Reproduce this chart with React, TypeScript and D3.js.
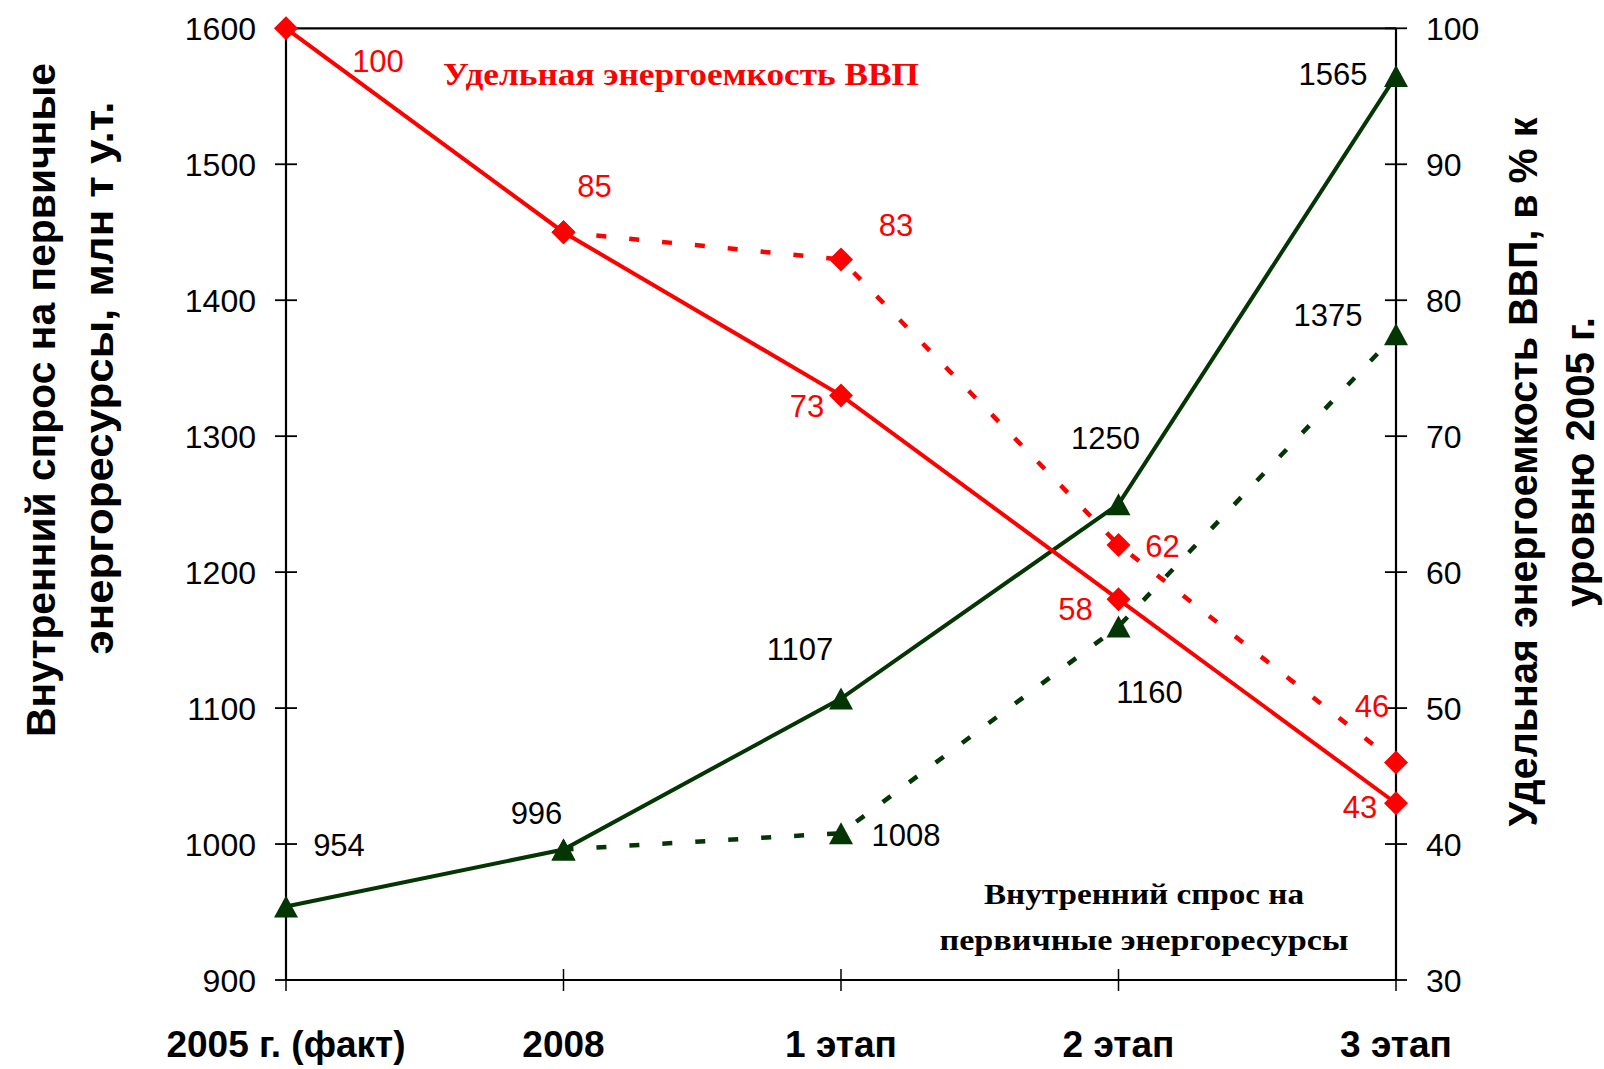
import React from "react";
import * as d3 from "d3";

// categories and series
const categories = ["2005 г. (факт)", "2008", "1 этап", "2 этап", "3 этап"];
const intensityBase = [100, 85, 73, 58, 43];
const intensityAlt = [null, 85, 83, 62, 46];
const demandBase = [954, 996, 1107, 1250, 1565];
const demandAlt = [null, 996, 1008, 1160, 1375];
const leftTicks = [900, 1000, 1100, 1200, 1300, 1400, 1500, 1600];
const rightTicks = [30, 40, 50, 60, 70, 80, 90, 100];

// label offsets from their points (px)
const intensityBaseOff = [[92, 33], [31, -46], [-34, 10], [-43, 10], [-36, 4]];
const intensityAltOff = [null, null, [55, -35], [44, 1], [-24, -57]];
const demandBaseOff = [[53, -62], [-27, -37], [-41, -50], [-13, -66], [-63, -2]];
const demandAltOff = [null, null, [65, 2], [31, 65], [-68, -19]];

const W = 1604;
const H = 1069;
const RED = "#ff0000";
const GREEN = "#033603";
const SANS = "'Liberation Sans', Arial, sans-serif";
const SERIF = "'Liberation Serif', 'Times New Roman', serif";

export default function App() {
  const x = d3.scalePoint().domain(categories).range([286, 1396]);
  const yL = d3.scaleLinear().domain([900, 1600]).range([980, 28.3]);
  const yR = d3.scaleLinear().domain([30, 100]).range([980, 28.3]);

  const lineOf = (y) =>
    d3
      .line()
      .defined((d) => d[1] != null)
      .x((d) => x(d[0]))
      .y((d) => y(d[1]));

  const pairs = (vals) => categories.map((c, i) => [c, vals[i]]);

  const diamond = (cx, cy, key) => (
    <path key={key} d={`M${cx},${cy - 12}L${cx + 12},${cy}L${cx},${cy + 12}L${cx - 12},${cy}Z`} fill={RED} />
  );
  const triangle = (cx, cy, key) => (
    <path key={key} d={`M${cx},${cy - 11}L${cx + 12},${cy + 11}L${cx - 12},${cy + 11}Z`} fill={GREEN} />
  );

  const labels = (vals, offs, y, color) =>
    vals.map((v, i) =>
      v == null || offs[i] == null ? null : (
        <text
          key={"l" + i}
          x={x(categories[i]) + offs[i][0]}
          y={y(v) + offs[i][1]}
          dy="0.36em"
          textAnchor="middle"
          fontFamily={SANS}
          fontSize={31}
          fill={color}
        >
          {v}
        </text>
      )
    );

  const x0 = x.range()[0];
  const x1 = x.range()[1];

  return (
    <svg width={W} height={H} style={{ position: "absolute", left: 0, top: 0, background: "#fff" }}>
      <rect width={W} height={H} fill="#fff" />

      {/* frame */}
      <g stroke="#000" strokeWidth={2.2} fill="none">
        <line x1={x0} x2={x1} y1={yL(1600)} y2={yL(1600)} />
        <line x1={x0} x2={x1} y1={yL(900)} y2={yL(900)} />
        <line x1={x0} x2={x0} y1={yL(1600)} y2={yL(900)} />
        <line x1={x1} x2={x1} y1={yR(100)} y2={yR(30)} />
        {leftTicks.map((t) => (
          <line key={"lt" + t} x1={x0 - 11} x2={x0 + 11} y1={yL(t)} y2={yL(t)} strokeWidth={1.8} />
        ))}
        {rightTicks.map((t) => (
          <line key={"rt" + t} x1={x1 - 11} x2={x1 + 11} y1={yR(t)} y2={yR(t)} strokeWidth={1.8} />
        ))}
        {categories.map((c) => (
          <line key={"xt" + c} x1={x(c)} x2={x(c)} y1={yL(900) - 11} y2={yL(900) + 11} strokeWidth={1.5} />
        ))}
      </g>

      {/* tick labels */}
      {leftTicks.map((t) => (
        <text key={"ll" + t} x={x0 - 30} y={yL(t)} dy="0.36em" textAnchor="end" fontFamily={SANS} fontSize={32}>
          {t}
        </text>
      ))}
      {rightTicks.map((t) => (
        <text key={"rl" + t} x={x1 + 30} y={yR(t)} dy="0.36em" textAnchor="start" fontFamily={SANS} fontSize={32}>
          {t}
        </text>
      ))}
      {categories.map((c) => (
        <text key={"cl" + c} x={x(c)} y={1044} dy="0.36em" textAnchor="middle" fontFamily={SANS} fontSize={37} fontWeight="bold">
          {c}
        </text>
      ))}

      {/* axis titles */}
      <g fontFamily={SANS} fontWeight="bold" fontSize={40} textAnchor="middle">
        <text transform="translate(41,400) rotate(-90)" dy="0.36em" textLength={674} lengthAdjust="spacingAndGlyphs">
          Внутренний спрос на первичные
        </text>
        <text transform="translate(99,378) rotate(-90)" dy="0.36em" textLength={553} lengthAdjust="spacingAndGlyphs">
          энергоресурсы, млн т у.т.
        </text>
        <text transform="translate(1523,472) rotate(-90)" dy="0.36em" textLength={709} lengthAdjust="spacingAndGlyphs">
          Удельная энергоемкость ВВП, в % к
        </text>
        <text transform="translate(1580,462) rotate(-90)" dy="0.36em" textLength={290} lengthAdjust="spacingAndGlyphs">
          уровню 2005 г.
        </text>
      </g>

      {/* annotations */}
      <text x={681} y={74} dy="0.36em" textAnchor="middle" fontFamily={SERIF} fontWeight="bold" fontSize={31} fill={RED} textLength={476} lengthAdjust="spacingAndGlyphs">
        Удельная энергоемкость ВВП
      </text>
      <g fontFamily={SERIF} fontWeight="bold" fontSize={30} textAnchor="middle">
        <text x={1144} y={893} dy="0.36em" textLength={320} lengthAdjust="spacingAndGlyphs">
          Внутренний спрос на
        </text>
        <text x={1144} y={939} dy="0.36em" textLength={409} lengthAdjust="spacingAndGlyphs">
          первичные энергоресурсы
        </text>
      </g>

      {/* demand lines */}
      <path d={lineOf(yL)(pairs(demandAlt))} fill="none" stroke={GREEN} strokeWidth={4.5} strokeDasharray="10 23" />
      <path d={lineOf(yL)(pairs(demandBase))} fill="none" stroke={GREEN} strokeWidth={4} />
      {demandBase.map((v, i) => triangle(x(categories[i]), yL(v), "tb" + i))}
      {demandAlt.map((v, i) => (v == null ? null : triangle(x(categories[i]), yL(v), "ta" + i)))}

      {/* intensity lines */}
      <path d={lineOf(yR)(pairs(intensityAlt))} fill="none" stroke={RED} strokeWidth={4.5} strokeDasharray="10 23" />
      <path d={lineOf(yR)(pairs(intensityBase))} fill="none" stroke={RED} strokeWidth={4} />
      {intensityBase.map((v, i) => diamond(x(categories[i]), yR(v), "db" + i))}
      {intensityAlt.map((v, i) => (v == null ? null : diamond(x(categories[i]), yR(v), "da" + i)))}

      {/* value labels */}
      <g>{labels(intensityBase, intensityBaseOff, yR, RED)}</g>
      <g>{labels(intensityAlt, intensityAltOff, yR, RED)}</g>
      <g>{labels(demandBase, demandBaseOff, yL, "#000")}</g>
      <g>{labels(demandAlt, demandAltOff, yL, "#000")}</g>
    </svg>
  );
}
